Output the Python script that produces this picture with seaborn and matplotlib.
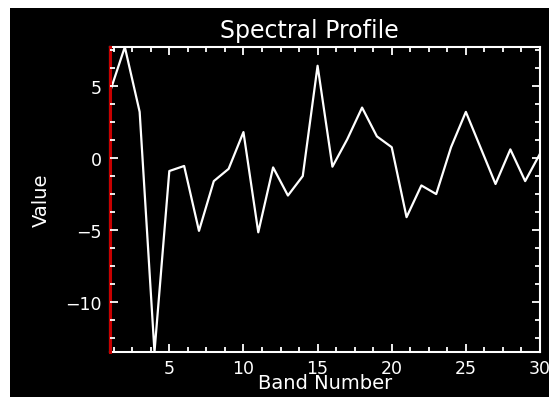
import matplotlib
matplotlib.use("Agg")
import matplotlib.pyplot as plt
from matplotlib.patches import Rectangle
from matplotlib.ticker import MultipleLocator
import seaborn as sns
import pandas as pd

bands = list(range(1, 31))
values = [4.6, 7.7, 3.2, -13.45, -0.9, -0.55, -5.05, -1.6, -0.75, 1.8,
          -5.15, -0.65, -2.6, -1.25, 6.4, -0.6, 1.3, 3.5, 1.5, 0.75,
          -4.1, -1.9, -2.5, 0.75, 3.2, 0.7, -1.8, 0.6, -1.6, 0.3]
title = "Spectral Profile"
xlabel = "Band Number"
ylabel = "Value"
marker_band = 1

df = pd.DataFrame({"band": bands, "value": values})

W, H = 549, 406
fig = plt.figure(figsize=(W / 100, H / 100), dpi=100, facecolor="white")
fig.patches.append(Rectangle((10 / W, 1 - 398 / H), (549 - 10) / W, (398 - 9) / H,
                             transform=fig.transFigure, facecolor="black",
                             edgecolor="none", zorder=-10))

L, R, T, B = 110, 540, 48, 353
ax = fig.add_axes([L / W, 1 - B / H, (R - L) / W, (B - T) / H])
ax.set_facecolor("black")

sns.lineplot(data=df, x="band", y="value", color="white", linewidth=1.6,
             estimator=None, ax=ax)
ax.axvline(marker_band, color="#c80000", linewidth=2.2, zorder=2.6, clip_on=False)
ax.xaxis.set_zorder(2.7)
ax.yaxis.set_zorder(2.7)

ax.set_xlim(min(bands), max(bands))
ax.set_ylim(min(values), max(values))

ax.xaxis.set_major_locator(MultipleLocator(5))
ax.xaxis.set_minor_locator(MultipleLocator(1.25))
ax.yaxis.set_major_locator(MultipleLocator(5))
ax.yaxis.set_minor_locator(MultipleLocator(1.25))

for s in ax.spines.values():
    s.set_color("white")
    s.set_linewidth(1.5)

ax.tick_params(which="both", direction="in", colors="white", top=True, right=True,
               labelsize=12.5)
ax.tick_params(which="major", length=6, width=1.3, pad=5)
ax.tick_params(which="minor", length=3.5, width=1.3)
ax.tick_params(axis="y", which="major", pad=6)

ax.set_xlabel(xlabel, color="white", fontsize=14, labelpad=-3)
ax.set_ylabel(ylabel, color="white", fontsize=14, labelpad=10)
fig.text(309 / W, 1 - 31 / H, title, color="white", fontsize=17,
         ha="center", va="center")

fig.savefig("out.png", dpi=100, facecolor="white")
